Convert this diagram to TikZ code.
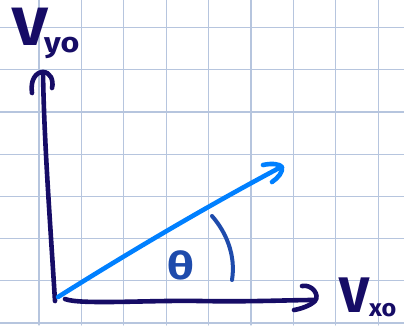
\documentclass[tikz,border=0pt]{standalone}
\usepackage{fontspec}
\setmainfont{Fira Sans}
\definecolor{navyink}{RGB}{22,12,102}
\definecolor{vecblue}{RGB}{0,128,255}
\definecolor{arcblue}{RGB}{30,75,172}
\definecolor{gridc}{RGB}{182,197,222}
\begin{document}
\begin{tikzpicture}[x=1pt,y=-1pt,line cap=round,line join=round,
  gridline/.style={draw=gridc,line width=1.2pt},
  axis/.style={draw=navyink,line width=4.6pt},
  vec/.style={draw=vecblue,line width=4.6pt},
  anglemark/.style={draw=arcblue,line width=4pt},
  lbl/.style={text=navyink,inner sep=0pt,font=\bfseries}]
\useasboundingbox (0,0) rectangle (404,325);
\fill[white] (0,0) rectangle (404,325);
% grid
\foreach \i in {0,...,8} \draw[gridline] ({39+42.4*\i},0) -- ({39+42.4*\i},325);
\foreach \j in {0,...,7} \draw[gridline] (0,{27.5+42.2*\j}) -- (404,{27.5+42.2*\j});
% points
\coordinate (o) at (55,301);
\coordinate (yt) at (43,72);
\coordinate (xs) at (65,299);
\coordinate (xt) at (314,300);
\coordinate (vs) at (58,297);
\coordinate (vt) at (281,167);
\coordinate (as) at (212,216);
\coordinate (ae) at (232,280);
% y axis
\draw[axis] (o) .. controls (50,220) and (44,140) .. (yt);
\draw[axis] (32,93) .. controls (30,80) and (36,72) .. (yt) .. controls (50,72) and (54,80) .. (52,88);
% x axis
\draw[axis] (xs) .. controls (80,305) and (150,300) .. (200,301) .. controls (250,302) and (290,300) .. (xt);
\draw[axis] (302,286) .. controls (312,284) and (320,295) .. (315,301) .. controls (310,306) and (300,309) .. (294,310);
% vector
\draw[vec] (vs) .. controls (120,258) and (200,210) .. (vt);
\draw[vec] (263,165) .. controls (272,163) and (280,164) .. (282,167) .. controls (283,172) and (278,178) .. (272,182);
% angle arc
\draw[anglemark] (as) .. controls (226,232) and (236,255) .. (ae);
% labels
\node[lbl,anchor=base west,xscale=1.15] (vy) at (12,45) {\fontsize{54}{54}\selectfont V\kern-3pt\raisebox{-7pt}{\fontsize{28}{28}\selectfont yo}};
\node[lbl,anchor=base west,xscale=1.05] (vx) at (339,312) {\fontsize{50}{50}\selectfont V\raisebox{-4pt}{\fontsize{24}{24}\selectfont xo}};
\node[text=arcblue,inner sep=0pt,font=\bfseries,xscale=1.25] (th) at (181,265) {\fontsize{38}{38}\selectfont θ};
\end{tikzpicture}
\end{document}
